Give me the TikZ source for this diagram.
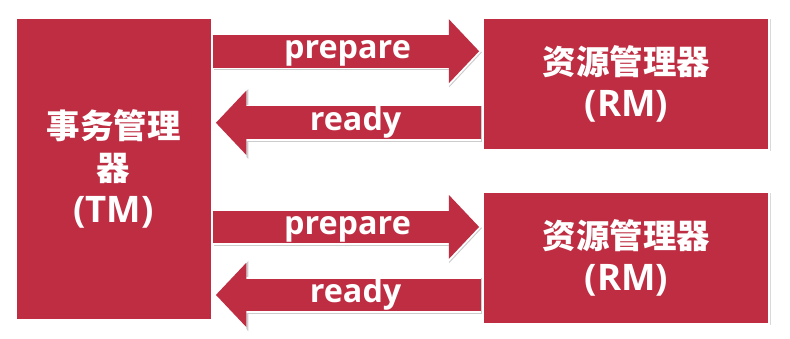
\documentclass[tikz,border=0pt]{standalone}
\usepackage{fontspec}
\setmainfont{Open Sans}
\newfontfamily\cjk{Noto Sans CJK SC}[Scale=0.915]
\usetikzlibrary{arrows.meta,calc,positioning,shadows}
\definecolor{rojotx}{RGB}{190,45,66}
\tikzset{
  gestor/.style={
    draw=white,
    line width=1.5pt,
    fill=rojotx,
    drop shadow={shadow xshift=.8pt,shadow yshift=-.8pt,opacity=.3},
    align=center,
    text=white,
    inner sep=0pt,
    font=\fontsize{26}{30}\selectfont\bfseries
  },
  flecha/.style={
    line width=.82cm,
    draw=rojotx,
    shorten >=.08cm,
    -{Triangle[length=.76cm,width=1.56cm]},
    preaction={draw=black!20,line width=.9cm,shorten >=.04cm,
      -{Triangle[length=.82cm,width=1.7cm]},
      transform canvas={shift={(.03cm,-.03cm)}}},
    preaction={draw=white,line width=.9cm,shorten >=.02cm,
      -{Triangle[length=.82cm,width=1.7cm]}}
  },
  etiqueta/.style={
    text=white,
    anchor=base,
    yshift=-.19cm,
    font=\fontsize{23}{26}\selectfont\bfseries
  }
}
\begin{document}
\begin{tikzpicture}
\useasboundingbox (0,0) rectangle (19.75,-8.45);
% gestores
\node[gestor,minimum width=4.9cm,minimum height=7.55cm] (TM) at (2.84,-4.225)
  {{\cjk 事务管理}\\{\cjk 器}\\(TM)};
\node[gestor,minimum width=7.15cm,minimum height=3.3cm] (RM1) at (15.66,-2.1)
  {{\cjk 资源管理器}\\(RM)};
\node[gestor,minimum width=7.15cm,minimum height=3.3cm,below=1cm of RM1] (RM2)
  {{\cjk 资源管理器}\\(RM)};
% mensajes
\coordinate (p1) at ($(RM1.west)+(0,.82)$);
\coordinate (q1) at ($(RM1.west)+(0,-.97)$);
\coordinate (p2) at ($(RM2.west)+(0,.78)$);
\coordinate (q2) at ($(RM2.west)+(0,-.92)$);
\draw[flecha] (TM.east |- p1) -- (p1) node[etiqueta,midway] {prepare};
\draw[flecha,shorten <=.03cm] (q1) -- (TM.east |- q1) node[etiqueta,pos=.47] {ready};
\draw[flecha] (TM.east |- p2) -- (p2) node[etiqueta,midway] {prepare};
\draw[flecha,shorten <=.03cm] (q2) -- (TM.east |- q2) node[etiqueta,pos=.47] {ready};
\end{tikzpicture}
\end{document}
